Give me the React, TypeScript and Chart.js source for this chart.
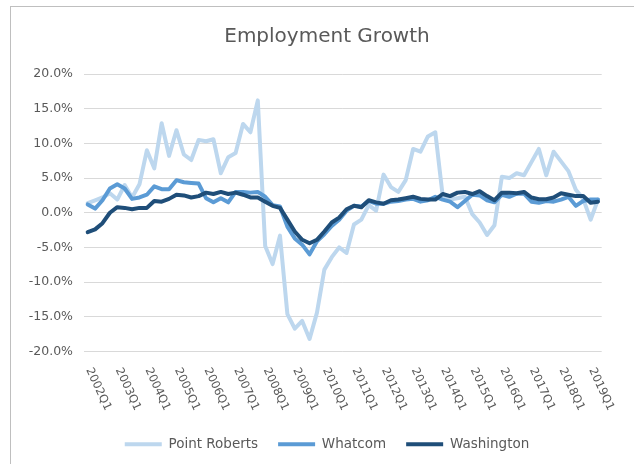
import React, { useEffect, useRef } from "react";
import { Chart, registerables } from "chart.js";

Chart.register(...registerables);

const chartTitle = "Employment Growth";
const years = [2002, 2003, 2004, 2005, 2006, 2007, 2008, 2009, 2010, 2011, 2012, 2013, 2014, 2015, 2016, 2017, 2018, 2019];
const quarterNames = ["Q1", "Q2", "Q3", "Q4"];
const quarters = years.flatMap((y) => quarterNames.map((q) => `${y}${q}`)).slice(0, 70);

const pointRoberts = [
  1.4, 1.8, 2.2, 2.8, 1.9, 4.0, 2.2, 4.1, 9.0, 6.4,
  12.9, 8.2, 11.9, 8.4, 7.6, 10.5, 10.3, 10.6, 5.7, 8.0,
  8.6, 12.8, 11.6, 16.2, -4.8, -7.4, -3.3, -14.6, -16.7, -15.6,
  -18.2, -14.4, -8.2, -6.4, -5.0, -5.8, -1.7, -1.0, 1.1, 0.3,
  5.5, 3.7, 3.0, 4.7, 9.2, 8.8, 11.0, 11.6, 2.4, 1.9,
  2.1, 2.3, -0.2, -1.4, -3.2, -1.8, 5.2, 5.0, 5.7, 5.4,
  7.3, 9.2, 5.4, 8.8, 7.4, 6.0, 3.3, 2.0, -1.0, 1.9,
];

const whatcom = [
  1.2, 0.6, 1.8, 3.5, 4.1, 3.5, 2.0, 2.2, 2.6, 3.8,
  3.4, 3.4, 4.7, 4.4, 4.3, 4.2, 2.1, 1.5, 2.1, 1.5,
  3.0, 3.0, 2.9, 3.0, 2.3, 1.1, 0.9, -2.0, -3.7, -4.6,
  -6.0, -4.1, -3.1, -1.9, -1.0, 0.3, 1.0, 0.9, 1.7, 1.3,
  1.3, 1.6, 1.7, 1.9, 2.0, 1.6, 1.8, 2.3, 1.9, 1.6,
  0.8, 1.7, 2.6, 2.5, 1.8, 1.5, 2.6, 2.3, 2.75, 2.75,
  1.6, 1.45, 1.7, 1.6, 1.9, 2.3, 1.0, 1.7, 1.9, 1.9,
];

const washington = [
  -2.8, -2.4, -1.5, 0.0, 0.8, 0.7, 0.5, 0.7, 0.7, 1.7,
  1.6, 2.0, 2.6, 2.5, 2.2, 2.4, 2.9, 2.7, 3.0, 2.7,
  2.9, 2.6, 2.2, 2.2, 1.6, 1.0, 0.7, -1.0, -2.7, -3.9,
  -4.4, -3.9, -2.7, -1.4, -0.7, 0.5, 1.0, 0.8, 1.8, 1.5,
  1.3, 1.8, 1.9, 2.1, 2.3, 2.0, 1.9, 1.9, 2.7, 2.4,
  2.9, 3.0, 2.7, 3.1, 2.4, 1.8, 2.9, 2.9, 2.8, 3.0,
  2.2, 1.95, 1.95, 2.2, 2.8, 2.6, 2.4, 2.4, 1.45, 1.6,
];

const seriesNames = ["Point Roberts", "Whatcom", "Washington"];
const seriesColors = ["#BDD7EE", "#5B9BD5", "#1F4E79"];
const yMin = -20;
const yMax = 20;
const yStep = 5;
const labelEvery = 4;

const FONT = "'DejaVu Sans', sans-serif";
const TEXT_COLOR = "#595959";

const rotatedXLabels = {
  id: "rotatedXLabels",
  afterDraw(chart: any) {
    const { ctx, chartArea, scales } = chart;
    const xs = scales.x;
    ctx.save();
    ctx.font = `11.5px ${FONT}`;
    ctx.fillStyle = TEXT_COLOR;
    ctx.textAlign = "left";
    ctx.textBaseline = "middle";
    quarters.forEach((lab: string, i: number) => {
      if (i % labelEvery !== 0) return;
      const x = xs.getPixelForValue(i);
      ctx.save();
      ctx.translate(x + 1, chartArea.bottom + 17);
      ctx.rotate((65 * Math.PI) / 180);
      ctx.fillText(lab, 0, 0);
      ctx.restore();
    });
    ctx.restore();
  },
};

export default function App() {
  const canvasRef = useRef<HTMLCanvasElement | null>(null);

  useEffect(() => {
    const canvas = canvasRef.current;
    if (!canvas) return;
    const data = [pointRoberts, whatcom, washington];
    const chart = new Chart(canvas, {
      type: "line",
      data: {
        labels: quarters,
        datasets: seriesNames.map((name, k) => ({
          label: name,
          data: data[k],
          borderColor: seriesColors[k],
          backgroundColor: seriesColors[k],
          borderWidth: 4,
          borderJoinStyle: "round" as const,
          borderCapStyle: "round" as const,
          pointRadius: 0,
          pointHoverRadius: 0,
          tension: 0,
          fill: false,
          order: 2 - k,
        })),
      },
      options: {
        responsive: false,
        animation: false,
        devicePixelRatio: 1,
        layout: { padding: { left: 0, right: 0, top: 0, bottom: 3 } },
        plugins: {
          title: {
            display: true,
            text: chartTitle,
            color: TEXT_COLOR,
            font: { family: FONT, size: 20, weight: "normal" as const, lineHeight: 1.2 },
            padding: { top: 19, bottom: 25 },
          },
          legend: {
            display: true,
            position: "bottom",
            labels: {
              usePointStyle: true,
              pointStyle: "line",
              pointStyleWidth: 37,
              color: TEXT_COLOR,
              font: { family: FONT, size: 13.5 },
              padding: 20,
              sort: (a: any, b: any) => a.datasetIndex - b.datasetIndex,
            },
          },
          tooltip: { enabled: false },
        },
        scales: {
          x: {
            type: "category",
            offset: true,
            grid: { display: false },
            border: { display: false },
            ticks: { display: false },
            afterFit: (s: any) => {
              s.height = 66;
            },
          },
          y: {
            min: yMin,
            max: yMax,
            grid: { color: "#D9D9D9", lineWidth: 1, drawTicks: false },
            border: { display: false },
            ticks: {
              stepSize: yStep,
              padding: 11,
              color: TEXT_COLOR,
              font: { family: FONT, size: 12.5 },
              callback: (v: any) => `${Number(v).toFixed(1)}%`,
            },
            afterFit: (s: any) => {
              s.width = 74;
            },
          },
          yRight: {
            position: "right",
            display: true,
            grid: { display: false },
            border: { display: false },
            ticks: { display: false },
            afterFit: (s: any) => {
              s.width = 42.3;
            },
          },
        },
      },
      plugins: [rotatedXLabels],
    });
    return () => chart.destroy();
  }, []);

  return (
    <div
      style={{
        position: "fixed",
        left: 0,
        top: 0,
        width: 634,
        height: 464,
        overflow: "hidden",
        background: "#ffffff",
      }}
    >
      <canvas
        ref={canvasRef}
        width={634}
        height={458}
        style={{ position: "absolute", left: 10, top: 6, width: 634, height: 458 }}
      />
      <div style={{ position: "absolute", left: 10, top: 6, width: 1, height: 458, background: "#BFBFBF" }} />
      <div style={{ position: "absolute", left: 10, top: 6, width: 624, height: 1, background: "#BFBFBF" }} />
    </div>
  );
}
